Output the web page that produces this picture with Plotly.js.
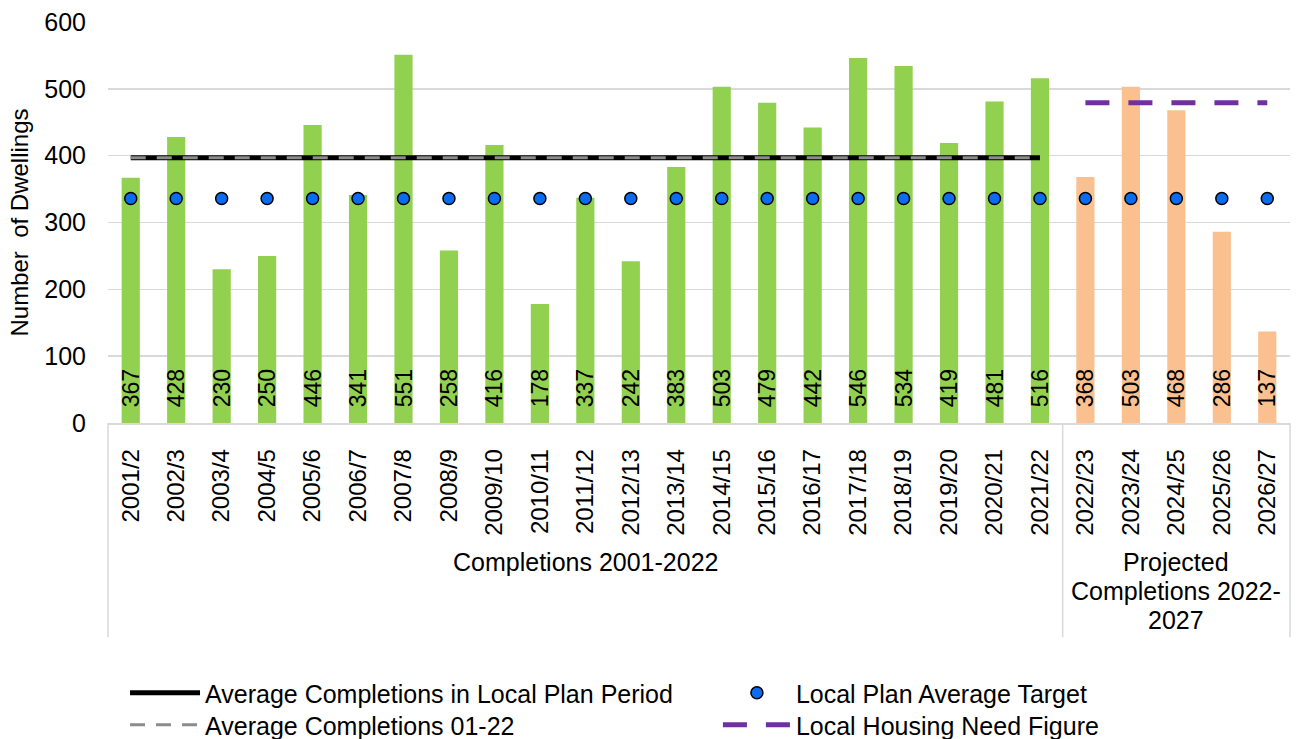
<!DOCTYPE html>
<html>
<head>
<meta charset="utf-8">
<script src="https://cdn.plot.ly/plotly-3.0.1.min.js"></script>
<style>html,body{margin:0;padding:0;background:#fff;}#chart{width:1299px;height:739px;}</style>
</head>
<body>
<div id="chart"></div>
<script>
const completionYears = ['2001/2','2002/3','2003/4','2004/5','2005/6','2006/7','2007/8','2008/9','2009/10','2010/11','2011/12','2012/13','2013/14','2014/15','2015/16','2016/17','2017/18','2018/19','2019/20','2020/21','2021/22'];
const completions = [367,428,230,250,446,341,551,258,416,178,337,242,383,503,479,442,546,534,419,481,516];
const projectedYears = ['2022/23','2023/24','2024/25','2025/26','2026/27'];
const projected = [368,503,468,286,137];
const allYears = completionYears.concat(projectedYears);
const planTarget = [336,336,336,336,336,336,336,336,336,336,336,336,336,336,336,336,336,336,336,336,336,336,336,336,336,336];
const avgPlanPeriodX = ['2001/2','2021/22'];
const avgPlanPeriodY = [397,397];
const avg0122X = ['2001/2','2021/22'];
const avg0122Y = [397,397];
const housingNeedX = ['2022/23','2026/27'];
const housingNeedY = [479,479];
const group1Lines = ['Completions 2001-2022'];
const group2Lines = ['Projected','Completions 2022-','2027'];

const FONT = 'Arial, "Liberation Sans", sans-serif';
const pad = '\u00a0\u00a0';

const traces = [
  {type:'bar', x:completionYears, y:completions, width:0.4, marker:{color:'#92D050'},
   text:completions.map(v=>pad+v), textposition:'inside', insidetextanchor:'start', textangle:-90,
   constraintext:'none', insidetextfont:{family:FONT,size:23,color:'#000'}, showlegend:false, hoverinfo:'x+y'},
  {type:'bar', x:projectedYears, y:projected, width:0.4, marker:{color:'#FAC090'},
   text:projected.map(v=>pad+v), textposition:'inside', insidetextanchor:'start', textangle:-90,
   constraintext:'none', insidetextfont:{family:FONT,size:23,color:'#000'}, showlegend:false, hoverinfo:'x+y'},
  {type:'scatter', mode:'lines', x:avgPlanPeriodX, y:avgPlanPeriodY, name:'Average Completions in Local Plan Period',
   line:{color:'#000000', width:5}, legend:'legend'},
  {type:'scatter', mode:'lines', x:avg0122X, y:avg0122Y, name:'Average Completions 01-22',
   line:{color:'#8C8C8C', width:3, dash:'15px,11px'}, legend:'legend3'},
  {type:'scatter', mode:'markers', x:allYears, y:planTarget, name:'Local Plan Average Target',
   marker:{color:'#0A6CF0', size:12, line:{color:'#000', width:1.5}}, legend:'legend2'},
  {type:'scatter', mode:'lines', x:housingNeedX, y:housingNeedY, name:'Local Housing Need Figure',
   line:{color:'#7030A0', width:5, dash:'24px,19px'}, legend:'legend4'}
];

const row1 = (423-693)/401, row2 = (423-725)/401;
function leg(x, y, w){
  return {x:x, xanchor:'left', y:y, yanchor:'middle', orientation:'v',
    font:{family:FONT,size:25,color:'#000'}, itemwidth:w, tracegroupgap:0, bgcolor:'rgba(0,0,0,0)'};
}
const divY = -0.534;
const annFont = {family:FONT,size:25,color:'#000'};
const annotations = [];
group1Lines.forEach((t,i)=>annotations.push({xref:'paper', yref:'paper', x:10.5/26, y:(423-(562+29*i))/401, xanchor:'center', yanchor:'middle', text:t, showarrow:false, font:annFont}));
group2Lines.forEach((t,i)=>annotations.push({xref:'paper', yref:'paper', x:23.5/26, y:(423-(562+29*i))/401, xanchor:'center', yanchor:'middle', text:t, showarrow:false, font:annFont}));

const layout = {
  width:1299, height:739,
  margin:{l:108, r:9, t:22, b:316, autoexpand:false},
  paper_bgcolor:'#fff', plot_bgcolor:'#fff',
  font:{family:FONT, size:25, color:'#000'},
  barmode:'overlay',
  showlegend:true,
  xaxis:{type:'category', categoryorder:'array', categoryarray:allYears, tickangle:-90,
    ticks:'', showgrid:false, showline:true, linecolor:'#D9D9D9', linewidth:1.5,
    tickfont:{family:FONT,size:24,color:'#000'}, ticklabelstandoff:15, range:[-0.5,25.5], fixedrange:true},
  yaxis:{range:[0,600], dtick:100, showgrid:true, gridcolor:'#D9D9D9', gridwidth:1.5,
    zeroline:false, showline:false, ticks:'', tickfont:{family:FONT,size:25,color:'#000'},
    ticklabelstandoff:21,
    title:{text:'Number\u00a0 of Dwellings', font:{family:FONT,size:24,color:'#000'}, standoff:8}},
  legend:leg(0.0144, row1, 70),
  legend3:leg(0.0144, row2, 70),
  legend2:leg(0.516, row1, 68),
  legend4:leg(0.516, row2, 68),
  shapes:[
    {type:'line', xref:'paper', yref:'paper', x0:0, x1:0, y0:0, y1:divY, line:{color:'#D9D9D9', width:1.5}},
    {type:'line', xref:'paper', yref:'paper', x0:21/26, x1:21/26, y0:0, y1:divY, line:{color:'#D9D9D9', width:1.5}},
    {type:'line', xref:'paper', yref:'paper', x0:1, x1:1, y0:0, y1:divY, line:{color:'#D9D9D9', width:1.5}}
  ],
  annotations:annotations
};

Plotly.newPlot('chart', traces, layout, {displayModeBar:false, staticPlot:true});
</script>
</body>
</html>
